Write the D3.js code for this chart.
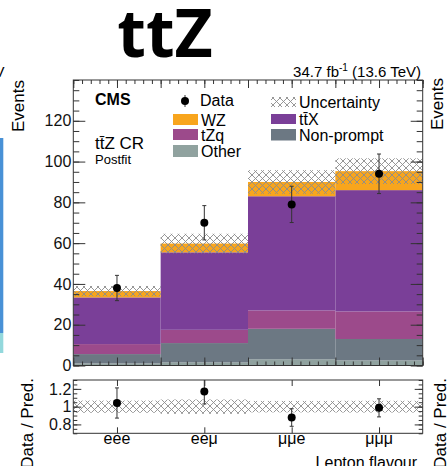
<!DOCTYPE html>
<html>
<head>
<meta charset="utf-8">
<script src="https://cdn.jsdelivr.net/npm/d3@7"></script>
<style>
body{margin:0;background:#fff}
svg{display:block;font-family:"Liberation Sans",Arial,sans-serif}
</style>
</head>
<body>
<div id="chart"></div>
<script>
// values
const categories=["eee","eeμ","μμe","μμμ"];
const other=[1.0,1.5,3.0,2.5];
const nonPrompt=[4.6,9.5,15.0,10.5];
const tZq=[4.9,6.5,9.0,13.5];
const ttX=[22.9,38.0,56.0,59.5];
const wz=[3.1,4.3,7.0,9.3];
const uncertainty=[2.5,4.8,5.8,6.3];
const data=[38,70,79,94];
const dataErr=[6.2,8.4,8.9,9.7];
const yTicks=[0,20,40,60,80,100,120];
const ratioTicks=[0.8,1,1.2];

const seriesKeys=["other","nonPrompt","tZq","ttX","wz"];
const colors={other:"#90a29f",nonPrompt:"#6c7883",tZq:"#9c4a8b",ttX:"#7a3f98",wz:"#f8a51d"};

const table=categories.map((c,i)=>({cat:c,i:i,other:other[i],nonPrompt:nonPrompt[i],tZq:tZq[i],ttX:ttX[i],wz:wz[i]}));
const totals=table.map(d=>seriesKeys.reduce((s,k)=>s+d[k],0));

const W=448,H=466;
const L=73.3,R=422.7,T=80,B=365.5,RT=380,RB=433.3;

const svg=d3.select("#chart").append("svg")
    .attr("width",W)
    .attr("height",H);

const defs=svg.append("defs");
const pat=defs.append("pattern")
    .attr("id","hatch")
    .attr("patternUnits","userSpaceOnUse")
    .attr("width",7)
    .attr("height",7);
pat.append("path")
    .attr("d","M0,0L7,7M7,0L0,7")
    .attr("stroke","#8c8c8c")
    .attr("stroke-width",0.9)
    .attr("fill","none");

defs.append("clipPath").attr("id","clipMain")
    .append("rect").attr("x",L).attr("y",T).attr("width",R-L).attr("height",B-T);
defs.append("clipPath").attr("id","clipRatio")
    .append("rect").attr("x",L).attr("y",RT).attr("width",R-L).attr("height",RB-RT);

const x=d3.scaleLinear().domain([0,4]).range([L,R]);
const y=d3.scaleLinear().domain([0,140]).range([B,T]);
const yr=d3.scaleLinear().domain([0.7,1.3]).range([RB,RT]);

// neighbouring panel pieces at the edges
svg.append("rect").attr("x",0).attr("y",138).attr("width",3.3).attr("height",195).attr("fill","#4891d6");
svg.append("rect").attr("x",0).attr("y",333).attr("width",3.3).attr("height",20).attr("fill","#93d8dc");
svg.append("text").attr("x",4.5).attr("y",77).attr("text-anchor","end").attr("font-size",15).text("TeV");

// title
svg.append("text")
    .attr("x",165)
    .attr("y",57)
    .attr("text-anchor","middle")
    .attr("font-family","'Noto Sans',sans-serif")
    .attr("font-weight",700)
    .attr("font-size",66)
    .text("ttZ");

// stacked histogram
const stacked=d3.stack().keys(seriesKeys)(table);
const main=svg.append("g").attr("clip-path","url(#clipMain)");

main.selectAll(".layer")
    .data(stacked)
    .enter()
    .append("g")
    .attr("class","layer")
    .attr("fill",d=>colors[d.key])
    .selectAll("rect")
    .data(d=>d)
    .enter()
    .append("rect")
    .attr("x",d=>x(d.data.i))
    .attr("width",d=>x(d.data.i+1)-x(d.data.i))
    .attr("y",d=>y(d[1]))
    .attr("height",d=>y(d[0])-y(d[1]));

main.selectAll(".unc")
    .data(totals)
    .enter()
    .append("rect")
    .attr("class","unc")
    .attr("x",(d,i)=>x(i))
    .attr("width",(d,i)=>x(i+1)-x(i))
    .attr("y",(d,i)=>y(d+uncertainty[i]))
    .attr("height",(d,i)=>y(d-uncertainty[i])-y(d+uncertainty[i]))
    .attr("fill","url(#hatch)");

function errorBars(g,vals,errs,sx,sy){
    g.selectAll(".eb")
        .data(vals)
        .enter()
        .append("line")
        .attr("class","eb")
        .attr("x1",(d,i)=>sx(i+0.5))
        .attr("x2",(d,i)=>sx(i+0.5))
        .attr("y1",(d,i)=>sy(d-errs[i]))
        .attr("y2",(d,i)=>sy(d+errs[i]))
        .attr("stroke","#333")
        .attr("stroke-width",1);
    [1,-1].forEach(s=>{
        g.selectAll(".cap"+s)
            .data(vals)
            .enter()
            .append("line")
            .attr("x1",(d,i)=>sx(i+0.5)-2)
            .attr("x2",(d,i)=>sx(i+0.5)+2)
            .attr("y1",(d,i)=>sy(d+s*errs[i]))
            .attr("y2",(d,i)=>sy(d+s*errs[i]))
            .attr("stroke","#333")
            .attr("stroke-width",1);
    });
    g.selectAll(".pt")
        .data(vals)
        .enter()
        .append("circle")
        .attr("class","pt")
        .attr("cx",(d,i)=>sx(i+0.5))
        .attr("cy",d=>sy(d))
        .attr("r",4)
        .attr("fill","#000");
}

errorBars(main,data,dataErr,x,y);

// axes of the main panel, ticks pointing inwards
function ticksOnly(axis,tx,ty,len,vals){
    const g=svg.append("g")
        .attr("transform",`translate(${tx},${ty})`)
        .call(axis.tickValues(vals).tickSize(len).tickFormat(""));
    g.select(".domain").remove();
    g.selectAll("line").attr("stroke","#333");
    return g;
}

ticksOnly(d3.axisLeft(y),L,0,-12,yTicks);
ticksOnly(d3.axisLeft(y),L,0,-6,d3.range(0,141,5));
ticksOnly(d3.axisRight(y),R,0,-12,yTicks);
ticksOnly(d3.axisRight(y),R,0,-6,d3.range(0,141,5));
ticksOnly(d3.axisBottom(x),0,B,-8,d3.range(0,4.01,0.5));
ticksOnly(d3.axisBottom(x),0,B,-4,d3.range(0,4.01,0.1));
ticksOnly(d3.axisTop(x),0,T,-8,d3.range(0,4.01,0.5));
ticksOnly(d3.axisTop(x),0,T,-4,d3.range(0,4.01,0.1));

const yLab=svg.append("g")
    .attr("transform",`translate(${L},0)`)
    .call(d3.axisLeft(y).tickValues(yTicks).tickSize(0).tickPadding(2));
yLab.select(".domain").remove();
yLab.selectAll("text").attr("font-size",16).attr("font-family","'Liberation Sans',Arial,sans-serif").attr("fill","#111");

svg.append("rect")
    .attr("x",L).attr("y",T)
    .attr("width",R-L).attr("height",B-T)
    .attr("fill","none")
    .attr("stroke","#333");

// ratio panel
const ratio=data.map((d,i)=>d/totals[i]);
const ratioErr=dataErr.map((e,i)=>e/totals[i]);
const relUnc=uncertainty.map((u,i)=>u/totals[i]);
const rp=svg.append("g").attr("clip-path","url(#clipRatio)");

rp.selectAll(".band")
    .data(relUnc)
    .enter()
    .append("rect")
    .attr("x",(d,i)=>x(i))
    .attr("width",(d,i)=>x(i+1)-x(i))
    .attr("y",d=>yr(1+d))
    .attr("height",d=>yr(1-d)-yr(1+d))
    .attr("fill","url(#hatch)");

errorBars(rp,ratio,ratioErr,x,yr);

ticksOnly(d3.axisLeft(yr),L,0,-8,ratioTicks);
ticksOnly(d3.axisLeft(yr),L,0,-4,d3.range(0.7,1.31,0.05));
ticksOnly(d3.axisRight(yr),R,0,-8,ratioTicks);
ticksOnly(d3.axisRight(yr),R,0,-4,d3.range(0.7,1.31,0.05));
ticksOnly(d3.axisBottom(x),0,RB,-6,d3.range(0.5,4,1));
ticksOnly(d3.axisTop(x),0,RT,-6,d3.range(0.5,4,1));

const rLab=svg.append("g")
    .attr("transform",`translate(${L},0)`)
    .call(d3.axisLeft(yr).tickValues(ratioTicks).tickSize(0).tickPadding(2).tickFormat(d3.format("~g")));
rLab.select(".domain").remove();
rLab.selectAll("text").attr("font-size",16).attr("font-family","'Liberation Sans',Arial,sans-serif").attr("fill","#111");

svg.append("rect")
    .attr("x",L).attr("y",RT)
    .attr("width",R-L).attr("height",RB-RT)
    .attr("fill","none")
    .attr("stroke","#333");

svg.selectAll(".catLabel")
    .data(categories)
    .enter()
    .append("text")
    .attr("class","catLabel")
    .attr("x",(d,i)=>x(i+0.5))
    .attr("y",444)
    .attr("text-anchor","middle")
    .attr("font-size",16)
    .text(d=>d);

svg.append("text").attr("x",417).attr("y",468).attr("text-anchor","end").attr("font-size",16).text("Lepton flavour");

// axis titles (ours on the left, neighbour's on the right)
[[24,80,"Events"],[33,378,"Data / Pred."],[443,78,"Events"],[446,378,"Data / Pred."]].forEach(t=>{
    svg.append("text")
        .attr("transform",`translate(${t[0]},${t[1]}) rotate(-90)`)
        .attr("text-anchor","end")
        .attr("font-size",17)
        .text(t[2]);
});

// lumi text
const lumi=svg.append("text").attr("x",421).attr("y",77).attr("text-anchor","end").attr("font-size",15);
lumi.append("tspan").text("34.7 fb");
lumi.append("tspan").attr("font-size",10).attr("dy",-6).text("-1");
lumi.append("tspan").attr("dy",6).text(" (13.6 TeV)");

// labels inside the frame
svg.append("text").attr("x",95).attr("y",105).attr("font-size",16).attr("font-weight",700).text("CMS");
svg.append("text").attr("x",95).attr("y",149).attr("font-size",17).text("tt\u0304Z CR");
svg.append("text").attr("x",95).attr("y",164).attr("font-size",13).text("Postfit");

// legend
const leg=svg.append("g").attr("font-size",16);
leg.append("line").attr("x1",185).attr("x2",185).attr("y1",95).attr("y2",107).attr("stroke","#333");
leg.append("circle").attr("cx",185).attr("cy",101).attr("r",4).attr("fill","#000");
leg.append("text").attr("x",200).attr("y",106).text("Data");

const legItems=[
    {x:173,y:114,h:11,fill:colors.wz,label:"WZ"},
    {x:173,y:129,h:11,fill:colors.tZq,label:"tZq"},
    {x:173,y:145,h:12,fill:colors.other,label:"Other"},
    {x:271,y:97,h:10,fill:"url(#hatch)",label:"Uncertainty"},
    {x:271,y:114,h:10,fill:colors.ttX,label:"tt\u0304X"},
    {x:271,y:129,h:11.5,fill:colors.nonPrompt,label:"Non-prompt"}
];
leg.selectAll(".sw")
    .data(legItems)
    .enter()
    .append("rect")
    .attr("class","sw")
    .attr("x",d=>d.x)
    .attr("y",d=>d.y)
    .attr("width",25)
    .attr("height",d=>d.h)
    .attr("fill",d=>d.fill);
leg.selectAll(".lt")
    .data(legItems)
    .enter()
    .append("text")
    .attr("class","lt")
    .attr("x",d=>d.x+28)
    .attr("y",d=>d.y+d.h/2+6)
    .text(d=>d.label);
</script>
</body>
</html>
